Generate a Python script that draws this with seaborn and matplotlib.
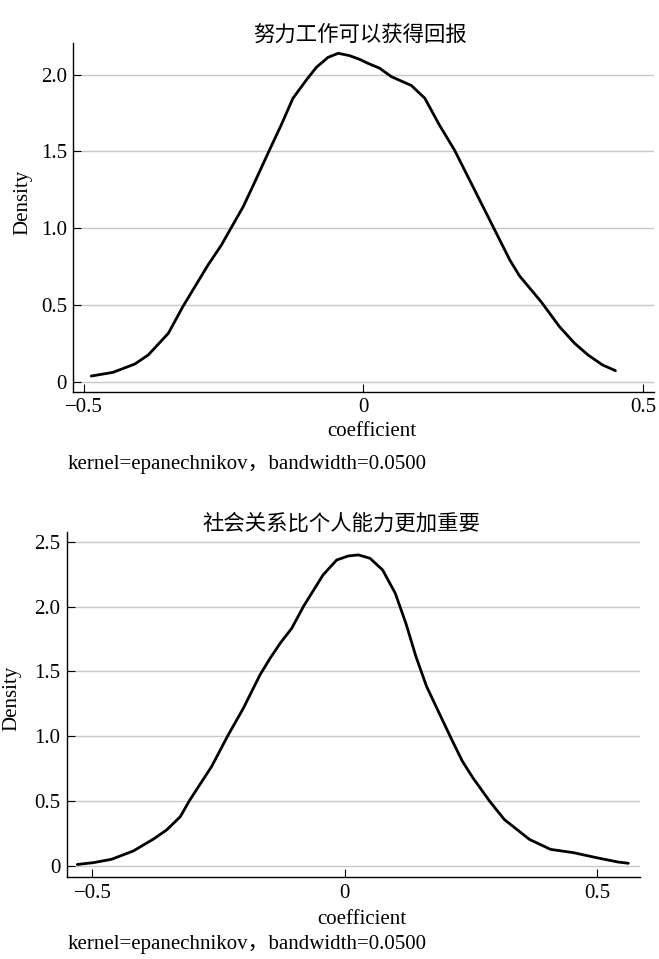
import numpy as np
import pandas as pd
import matplotlib
matplotlib.use("Agg")
import matplotlib.pyplot as plt
import seaborn as sns

# ---- data ----
title1 = "努力工作可以获得回报"
coef1 = [-0.487, -0.448, -0.409, -0.385, -0.349, -0.323, -0.278, -0.254, -0.236, -0.215,
         -0.194, -0.168, -0.147, -0.126, -0.102, -0.084, -0.063, -0.045, -0.025, -0.007,
         0.008, 0.029, 0.050, 0.086, 0.110, 0.136, 0.163, 0.199, 0.232, 0.262,
         0.279, 0.318, 0.351, 0.378, 0.402, 0.428, 0.451]
dens1 = [0.037, 0.061, 0.115, 0.174, 0.315, 0.489, 0.760, 0.890, 1.006, 1.140,
         1.303, 1.509, 1.672, 1.846, 1.965, 2.048, 2.113, 2.139, 2.124, 2.100,
         2.074, 2.042, 1.987, 1.929, 1.846, 1.672, 1.509, 1.249, 1.010, 0.793,
         0.691, 0.521, 0.358, 0.250, 0.174, 0.109, 0.072]

title2 = "社会关系比个人能力更加重要"
coef2 = [-0.530, -0.498, -0.462, -0.419, -0.379, -0.353, -0.326, -0.307, -0.264, -0.231,
         -0.201, -0.168, -0.148, -0.128, -0.105, -0.082, -0.043, -0.016, 0.007, 0.027,
         0.050, 0.075, 0.100, 0.121, 0.141, 0.162, 0.187, 0.212, 0.233, 0.254,
         0.287, 0.316, 0.366, 0.408, 0.453, 0.499, 0.541, 0.562]
dens2 = [0.012, 0.026, 0.052, 0.116, 0.208, 0.278, 0.380, 0.509, 0.766, 1.010,
         1.216, 1.473, 1.601, 1.717, 1.833, 2.000, 2.244, 2.359, 2.390, 2.398,
         2.372, 2.282, 2.103, 1.872, 1.615, 1.385, 1.179, 0.974, 0.808, 0.679,
         0.500, 0.359, 0.205, 0.128, 0.103, 0.064, 0.031, 0.021]

xticks = [-0.5, 0, 0.5]
xticklabels = ["\u22120.5", "0", "0.5"]
yticks1 = [0, 0.5, 1.0, 1.5, 2.0]
yticks2 = [0, 0.5, 1.0, 1.5, 2.0, 2.5]
note = "kernel=epanechnikov，bandwidth=0.0500"

# ---- style ----
sns.set_theme(style="white")
serif = ["Liberation Serif", "Noto Sans CJK SC", "DejaVu Sans"]
cjk = ["Noto Sans CJK SC", "DejaVu Sans"]
plt.rcParams["font.family"] = serif
plt.rcParams["axes.unicode_minus"] = True
FS = 15

W, H = 659, 959
fig = plt.figure(figsize=(W / 100, H / 100), dpi=100)

def px_axes(l, r, t, b):
    return fig.add_axes([l / W, 1 - b / H, (r - l) / W, (b - t) / H])

panels = [
    dict(box=(73.3, 654, 42.7, 391.7), x=coef1, y=dens1, title=title1,
         xlim=(-0.519, 0.52), ylim=(-0.065, 2.208), yticks=yticks1,
         title_xy=(360, 22), xlab_xy=(372, 431), ylab_xy=(22.5, 202), note_y=465),
    dict(box=(66.7, 640, 531.7, 877.3), x=coef2, y=dens2, title=title2,
         xlim=(-0.551, 0.585), ylim=(-0.087, 2.577), yticks=yticks2,
         title_xy=(341.5, 515), xlab_xy=(362, 919), ylab_xy=(12, 698.5), note_y=944),
]

for p in panels:
    l, r, t, b = p["box"]
    ax = px_axes(l, r, t, b)
    df = pd.DataFrame({"coefficient": p["x"], "Density": p["y"]})
    sns.lineplot(data=df, x="coefficient", y="Density", ax=ax, color="black",
                 linewidth=2.0, sort=False, zorder=3)
    ax.set_xlim(*p["xlim"])
    ax.set_ylim(*p["ylim"])
    ax.set_xticks(xticks)
    ax.set_xticklabels(xticklabels)
    ax.set_yticks(p["yticks"])
    ax.set_yticklabels(["0" if v == 0 else f"{v:.1f}" for v in p["yticks"]])
    ax.yaxis.grid(True, color="#c8c8c8", linewidth=1.0, zorder=0)
    ax.xaxis.grid(False)
    for s in ["top", "right"]:
        ax.spines[s].set_visible(False)
    for s in ["left", "bottom"]:
        ax.spines[s].set_color("black")
        ax.spines[s].set_linewidth(1.0)
    ax.tick_params(axis="both", direction="in", length=5.5, width=0.8,
                   color="black", labelsize=FS, labelcolor="black", pad=4.5,
                   left=True, bottom=True)
    for lab in ax.get_xticklabels() + ax.get_yticklabels():
        lab.set_family(serif)
    w = r - l
    h = b - t
    tx, ty = p["title_xy"]
    ax.set_title(p["title"], family=cjk, fontsize=15.4, color="black")
    ax.title.set_position(((tx - l) / w, (b - ty) / h))
    ax.title.set_va("center")
    ax.title.set_ha("center")
    xx, xy = p["xlab_xy"]
    ax.set_xlabel("coefficient", fontsize=FS, color="black", family=serif)
    ax.xaxis.set_label_coords((xx - l) / w, (b - xy) / h)
    ax.xaxis.label.set_va("center")
    yx, yy = p["ylab_xy"]
    ax.set_ylabel("Density", fontsize=FS, color="black", family=serif)
    ax.yaxis.set_label_coords((yx - l) / w, (b - yy) / h)
    ax.yaxis.label.set_va("center")
    fig.text(68 / W, 1 - p["note_y"] / H, note, fontsize=FS, family=serif,
             ha="left", va="center", color="black")

fig.savefig("out.png", dpi=100, facecolor="white")
